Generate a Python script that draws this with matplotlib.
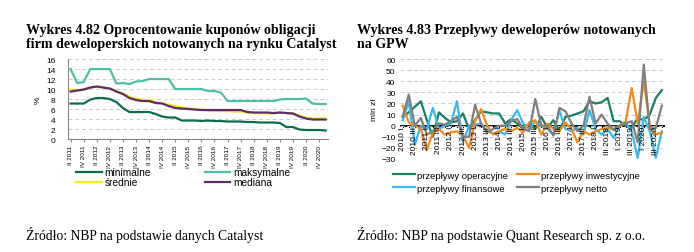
import matplotlib.pyplot as plt

# --- Wykres 4.82: kupony obligacji deweloperów (kwartalnie, II 2011 - I 2021)
kwartaly_l = ['II 2011', 'III 2011', 'IV 2011', 'I 2012', 'II 2012', 'III 2012', 'IV 2012', 'I 2013',
              'II 2013', 'III 2013', 'IV 2013', 'I 2014', 'II 2014', 'III 2014', 'IV 2014', 'I 2015',
              'II 2015', 'III 2015', 'IV 2015', 'I 2016', 'II 2016', 'III 2016', 'IV 2016', 'I 2017',
              'II 2017', 'III 2017', 'IV 2017', 'I 2018', 'II 2018', 'III 2018', 'IV 2018', 'I 2019',
              'II 2019', 'III 2019', 'IV 2019', 'I 2020', 'II 2020', 'III 2020', 'IV 2020', 'I 2021']
minimalne = [7.1, 7.1, 7.1, 7.9, 8.2, 8.2, 8.0, 7.4, 6.2, 5.4, 5.4, 5.4, 5.4, 5.0, 4.5, 4.3, 4.3, 3.7, 3.7, 3.7,
             3.6, 3.7, 3.6, 3.6, 3.5, 3.5, 3.5, 3.4, 3.4, 3.3, 3.3, 3.3, 3.2, 2.4, 2.4, 1.9, 1.8, 1.8, 1.8, 1.7]
maksymalne = [14, 11.2, 11.4, 14, 14, 14, 14, 11.1, 11.2, 11.0, 11.5, 11.6, 12, 12, 12, 12, 10, 10, 10, 10,
              10, 9.6, 9.6, 9.3, 7.6, 7.6, 7.6, 7.6, 7.6, 7.6, 7.6, 7.6, 7.9, 8, 8, 8, 8.1, 7.1, 7, 7]
srednie = [9.9, 9.8, 9.9, 10.3, 10.5, 10.3, 10.1, 9.6, 9.1, 8.5, 8.1, 7.8, 7.7, 7.4, 7.2, 6.9, 6.6, 6.3, 6.2, 6.0,
           5.9, 5.7, 5.6, 5.6, 5.6, 5.5, 5.5, 5.3, 5.2, 5.2, 5.1, 5.1, 5.3, 5.2, 5.1, 4.7, 4.3, 4.1, 4.1, 4.1]
mediana = [9.5, 9.7, 9.9, 10.3, 10.5, 10.3, 10.1, 9.5, 9.0, 8.2, 7.8, 7.6, 7.6, 7.2, 7.1, 6.6, 6.2, 6.1, 6.0, 5.9,
           5.8, 5.8, 5.8, 5.8, 5.8, 5.8, 5.8, 5.4, 5.3, 5.3, 5.3, 5.2, 5.3, 5.2, 5.1, 4.5, 4.1, 3.9, 3.9, 3.9]

# --- Wykres 4.83: przepływy deweloperów (kwartalnie, I 2010 - IV 2020), mln zł
etykiety_p = ['2010 I', '2010 III', '2011 I', '2011 III', '2012 I', '2012 III', '2013 I', '2013 III',
              '2014 I', '2014 III', '2015 I', '2015 III', '2016 I', '2016 III', '2017 I', '2017 III',
              '2018 I', 'III 2018', 'I 2019', 'III 2019', 'I 2020', 'III 2020']
operacyjne = [8, 12, 17, 22, 5, -10, 12, 7, 3, 4, 11, -3, 5, 13, 12, 11, 11, 2, 6, 2, -3, 2,
              -3, 8, -2, 5, -5, 8, 9, 11, 13, 22, 20, 21, 25, 4, 4, 0, -2, 7, 5, 10, 25, 32]
inwestycyjne = [18, 3, 0, -3, -22, -6, -3, -8, -6, -5, -9, -20, 4, 15, 0, -8, -5, -3, -5, -2, -6, 3,
                5, -8, 2, -3, -5, 3, -3, -15, -5, -8, -5, -3, -2, -3, 0, 4, 34, 2, 40, 0, -8, -6]
finansowe = [5, 22, -17, 0, -3, 16, -3, 0, 2, 22, -15, 0, 1, 2, -5, -7, -5, -8, 5, 14, 2, -3,
             4, 0, -3, -8, 14, -3, -5, -2, -8, 14, -3, -8, -3, -11, 0, 3, -5, -29, 8, -5, -29, -5]
netto = [8, 28, 0, 7, -8, -5, 2, 1, 4, 8, -10, -10, 19, 2, -6, -3, 0, 0, 4, 6, -3, -5,
         24, 0, 0, -9, 16, 13, 2, -5, 0, 26, 2, 10, 2, -4, 0, 2, 4, -15, 55, -3, -2, 18]

plt.rcParams['font.family'] = ['Liberation Sans', 'DejaVu Sans']
serif = ['Liberation Serif', 'DejaVu Serif']

fig = plt.figure(figsize=(6.94, 2.53), dpi=100)

# ---------------- lewy wykres
ax1 = fig.add_axes([0.098, 0.4466, 0.375, 0.316])
x1 = list(range(len(kwartaly_l)))
ax1.plot(x1, minimalne, color='#0d6b51', lw=1.6, label='minimalne')
ax1.plot(x1, srednie, color='#ffe81a', lw=1.6, label='średnie')
ax1.plot(x1, maksymalne, color='#4dbfa3', lw=1.6, label='maksymalne')
ax1.plot(x1, mediana, color='#5c2c6d', lw=1.6, label='mediana')
ax1.set_ylim(0, 16)
ax1.set_yticks(range(0, 17, 2))
ax1.set_xlim(-0.4, len(x1) - 0.6)
ax1.set_xticks(x1[::2])
ax1.set_xticklabels(kwartaly_l[::2], rotation=90, fontsize=4.6)
ax1.tick_params(axis='y', labelsize=6, length=0, pad=9)
ax1.tick_params(axis='x', length=2, color='#888888', pad=2)
ax1.yaxis.grid(True, ls=(0, (4, 3)), color='#cccccc', lw=0.7)
for s in ['top', 'right']:
    ax1.spines[s].set_visible(False)
for s in ['left', 'bottom']:
    ax1.spines[s].set_color('#888888')
ax1.set_ylabel('%', fontsize=6, labelpad=3)
ax1.legend(loc='upper left', bbox_to_anchor=(0.110, 0.335), bbox_transform=fig.transFigure,
           ncol=2, frameon=False, fontsize=7.3, handlelength=2.5, handletextpad=0.3,
           columnspacing=5.3, labelspacing=0.0, borderaxespad=0, borderpad=0)

# ---------------- prawy wykres
ax2 = fig.add_axes([0.576, 0.3676, 0.382, 0.395])
x2 = list(range(len(operacyjne)))
ax2.plot(x2, operacyjne, color='#178062', lw=1.6, label='przepływy operacyjne')
ax2.plot(x2, finansowe, color='#3cb8ee', lw=1.6, label='przepływy finansowe')
ax2.plot(x2, inwestycyjne, color='#f28a1c', lw=1.6, label='przepływy inwestycyjne')
ax2.plot(x2, netto, color='#7f7f7f', lw=1.6, label='przepływy netto')
ax2.axhline(0, color='black', lw=1.3, zorder=1)
ax2.set_ylim(-30, 60)
ax2.set_yticks(range(-30, 61, 10))
ax2.set_xlim(-0.5, len(x2) - 0.5)
ax2.set_xticks(x2)
ax2.set_xticklabels([])
ax2.tick_params(axis='x', length=0)
ax2.tick_params(axis='y', labelsize=6, length=0, pad=3)
ax2.yaxis.grid(True, ls=(0, (4, 3)), color='#cccccc', lw=0.7)
for s in ax2.spines.values():
    s.set_visible(False)
for xi in x2:
    ax2.plot([xi, xi], [0, -1.5], color='black', lw=0.8, zorder=1)
trans = ax2.get_xaxis_transform()
for xi, lab in zip(x2[::2], etykiety_p):
    ax2.text(xi, 0.33, lab, rotation=90, fontsize=6, ha='center', va='top', transform=trans)
ax2.set_ylabel('mln zł', fontsize=6, labelpad=2)
ax2.legend(loc='upper left', bbox_to_anchor=(0.566, 0.322), bbox_transform=fig.transFigure,
           ncol=2, frameon=False, fontsize=6.8, handlelength=2.3, handletextpad=0.25,
           columnspacing=1.0, labelspacing=0.45, borderaxespad=0, borderpad=0)

# ---------------- tytuły i źródła
fig.text(0.037, 0.905, 'Wykres 4.82 Oprocentowanie kuponów obligacji\nfirm deweloperskich notowanych na rynku Catalyst',
         fontsize=10.1, fontweight='bold', family=serif, va='top', linespacing=1.12)
fig.text(0.514, 0.905, 'Wykres 4.83 Przepływy deweloperów notowanych\nna GPW',
         fontsize=10.1, fontweight='bold', family=serif, va='top', linespacing=1.12)
fig.text(0.037, 0.071, 'Źródło: NBP na podstawie danych Catalyst', fontsize=9.8, family=serif, va='center')
fig.text(0.514, 0.071, 'Źródło: NBP na podstawie Quant Research sp. z o.o.', fontsize=9.8, family=serif,
         va='center')

fig.savefig('out.png', dpi=100)
